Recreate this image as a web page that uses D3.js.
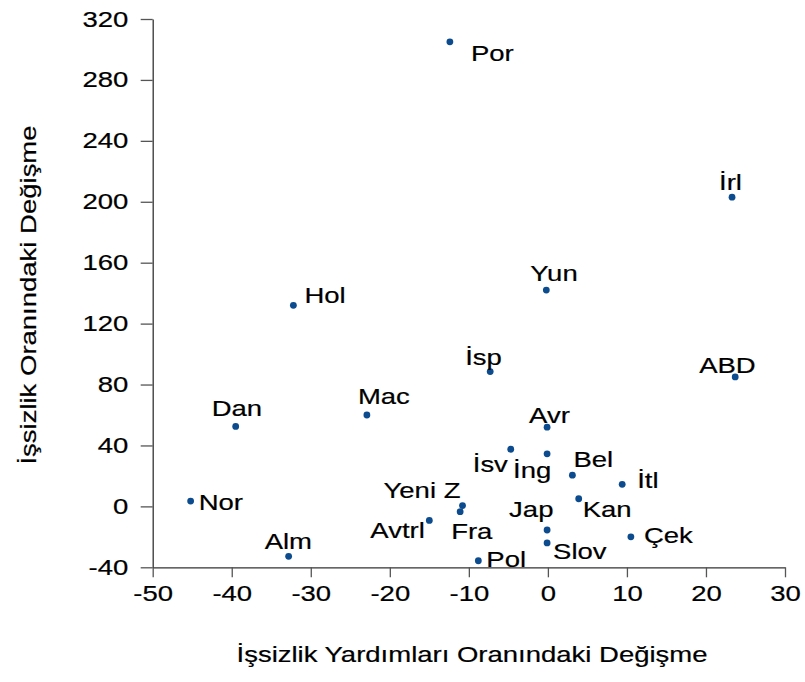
<!DOCTYPE html>
<html>
<head>
<meta charset="utf-8">
<script src="https://cdn.jsdelivr.net/npm/d3@7"></script>
<style>
  body { margin: 0; background: #fff; }
  text { font-family: "Liberation Sans", Arial, sans-serif; fill: #000; stroke: #000; stroke-width: 0.2px; }
</style>
</head>
<body>
<svg id="chart" width="805" height="682"></svg>
<script>
// Ülke kısaltmaları ve değerler
const countries = ["Por", "İrl", "Yun", "Hol", "İsp", "ABD", "Dan", "Mac", "Avr", "İsv", "İng", "Bel",
                   "İtl", "Kan", "Yeni Z", "Fra", "Avtrl", "Jap", "Slov", "Pol", "Çek", "Nor", "Alm"];
// İşsizlik yardımları oranındaki değişme (x)
const benefitChange = [-12.4, 23.3, -0.2, -32.2, -7.3, 23.7, -39.5, -22.9, -0.1, -4.7, -0.1, 3.1,
                       9.4, 3.9, -10.8, -11.1, -15.0, -0.1, -0.1, -8.8, 10.5, -45.2, -32.8];
// İşsizlik oranındaki değişme (y)
const unempChange = [305, 203, 142, 132, 88.5, 85, 52.5, 60, 52, 37.5, 34.5, 20.5,
                     14.5, 5, 0.5, -3.5, -9.2, -15.5, -24, -35.7, -20, 3.5, -32.8];

const xTicks = [-50, -40, -30, -20, -10, 0, 10, 20, 30];
const yTicks = [-40, 0, 40, 80, 120, 160, 200, 240, 280, 320];

// label placement relative to the dot: [dx to left edge, dy to baseline]
const labelPos = {
    "Por": [21, 19], "İrl": [-13, -7], "Yun": [-16, -9], "Hol": [11, -2], "İsp": [-25, -7],
    "ABD": [-36, -4], "Dan": [-24, -10], "Mac": [-9, -11], "Avr": [-18, -4], "İsv": [-38, 23],
    "İng": [-34, 24], "Bel": [1, -8], "İtl": [15, 4], "Kan": [4, 18], "Yeni Z": [-79, -8],
    "Fra": [-9, 27], "Avtrl": [-59, 18], "Jap": [-38, -13], "Slov": [6, 16], "Pol": [8, 6],
    "Çek": [13, 6], "Nor": [8, 9], "Alm": [-24, -7]
};

const svg = d3.select("#chart"),
      fontSize = 22,
      sx = 1.25; // reference glyphs are wider than Arial

const points = countries.map((c, i) => ({ name: c, x: benefitChange[i], y: unempChange[i] }));

const xScale = d3.scaleLinear().domain([-50, 30]).range([152.7, 785]);
const yScale = d3.scaleLinear().domain([-40, 320]).range([567.3, 19]);

const plainFmt = d => String(d); // hyphen minus like the reference

// Axes
const xAxis = svg.append("g")
    .attr("transform", `translate(0,${yScale(-40)})`)
    .call(d3.axisBottom(xScale).tickValues(xTicks).tickFormat(plainFmt)
        .tickSize(10).tickSizeOuter(0).tickPadding(8));

const yAxis = svg.append("g")
    .attr("transform", `translate(${xScale(-50)},0)`)
    .call(d3.axisLeft(yScale).tickValues(yTicks).tickFormat(plainFmt)
        .tickSize(12).tickSizeOuter(0));

[xAxis, yAxis].forEach(ax => {
    ax.select(".domain").attr("stroke", "#333").attr("stroke-width", 1.3);
    ax.selectAll(".tick line").attr("stroke", "#555").attr("stroke-width", 1.3);
    ax.selectAll(".tick text")
        .attr("font-size", fontSize)
        .attr("fill", "#000")
        .style("font-family", "'Liberation Sans', Arial, sans-serif")
        .attr("transform", `scale(${sx},1)`);
});
yAxis.selectAll(".tick text").attr("x", -24.4 / sx);

// Axis titles
svg.append("text")
    .attr("transform", `translate(472,662) scale(${sx},1)`)
    .attr("text-anchor", "middle")
    .attr("font-size", fontSize)
    .text("İşsizlik Yardımları Oranındaki Değişme");

svg.append("text")
    .attr("transform", `translate(36,295) rotate(-90) scale(${sx},1)`)
    .attr("text-anchor", "middle")
    .attr("font-size", fontSize)
    .text("İşsizlik Oranındaki Değişme");

// Dots
svg.selectAll(".dot")
    .data(points)
    .enter()
    .append("circle")
    .attr("class", "dot")
    .attr("cx", d => xScale(d.x))
    .attr("cy", d => yScale(d.y))
    .attr("r", 3.4)
    .attr("fill", "#0b4b8e");

// Labels
svg.selectAll(".lbl")
    .data(points)
    .enter()
    .append("text")
    .attr("class", "lbl")
    .attr("font-size", fontSize)
    .attr("transform", d => {
        const o = labelPos[d.name] || [6, 0];
        return `translate(${xScale(d.x) + o[0]},${yScale(d.y) + o[1]}) scale(${sx},1)`;
    })
    .text(d => d.name);
</script>
</body>
</html>
